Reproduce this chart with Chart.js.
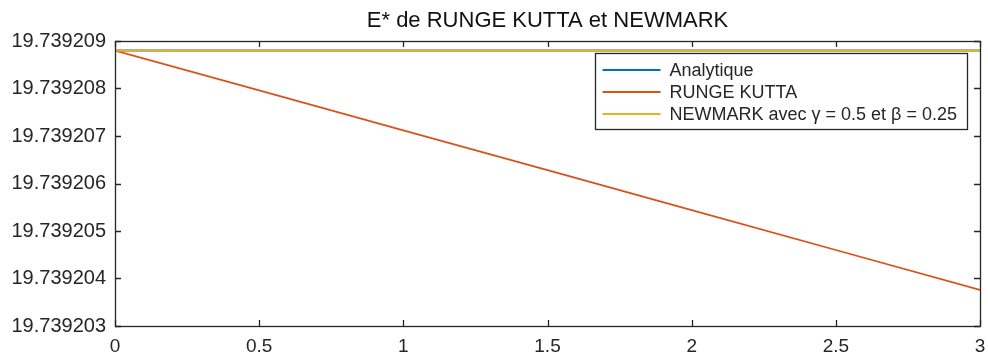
<!DOCTYPE html>
<html><head><meta charset="utf-8">
<script src="https://cdn.jsdelivr.net/npm/chart.js@4/dist/chart.umd.min.js"></script>
<style>html,body{margin:0;padding:0;background:#fff}#wrap{width:988px;height:356px}</style>
</head><body><div id="wrap"><canvas id="c" width="988" height="356"></canvas></div>
<script>
const titleText = 'E* de RUNGE KUTTA et NEWMARK';
const xValues = [0, 0.5, 1, 1.5, 2, 2.5, 3];
const analytique = [19.7392088, 19.7392088, 19.7392088, 19.7392088, 19.7392088, 19.7392088, 19.7392088];
const rungeKutta = [19.7392088, 19.73920796, 19.73920712, 19.73920628, 19.73920544, 19.7392046, 19.73920376];
const newmark = [19.7392088, 19.7392088, 19.7392088, 19.7392088, 19.7392088, 19.7392088, 19.7392088];
const xTicks = [0, 0.5, 1, 1.5, 2, 2.5, 3];
const yTicks = [19.739203, 19.739204, 19.739205, 19.739206, 19.739207, 19.739208, 19.739209];
const seriesLabels = ['Analytique', 'RUNGE KUTTA', 'NEWMARK avec \u03b3 = 0.5 et \u03b2 = 0.25'];
const seriesColors = ['#0072BD', '#D95319', '#EDB120'];

const FONT = '"Liberation Sans", Arial, Helvetica, sans-serif';
const AX = '#262626';

const boxPlugin = {
  id: 'matlabBox',
  afterDatasetsDraw(chart) {
    const {ctx, chartArea: a, scales} = chart;
    ctx.save();
    ctx.strokeStyle = AX;
    ctx.lineWidth = 1.3;
    ctx.beginPath();
    const tl = 6;
    scales.x.ticks.forEach(t => {
      const px = Math.round(scales.x.getPixelForValue(t.value)) + 0.5;
      ctx.moveTo(px, a.bottom); ctx.lineTo(px, a.bottom - tl);
      ctx.moveTo(px, a.top); ctx.lineTo(px, a.top + tl);
    });
    scales.y.ticks.forEach(t => {
      const py = Math.round(scales.y.getPixelForValue(t.value)) + 0.5;
      ctx.moveTo(a.left, py); ctx.lineTo(a.left + tl, py);
      ctx.moveTo(a.right, py); ctx.lineTo(a.right - tl, py);
    });
    ctx.stroke();
    ctx.strokeRect(Math.round(a.left) + 0.5, Math.round(a.top) + 0.5, Math.round(a.right - a.left), Math.round(a.bottom - a.top));
    // legend
    ctx.font = '18px ' + FONT;
    let maxW = 0;
    chart.data.datasets.forEach(d => { maxW = Math.max(maxW, ctx.measureText(d.label).width); });
    const lineLen = 58, gap = 9, padL = 8, padR = 10;
    const w = padL + lineLen + gap + maxW + padR;
    const right = a.right - 13, top = a.top + 12;
    const left = right - w;
    const rowH = 22, firstRow = 17;
    const h = firstRow + rowH * (chart.data.datasets.length - 1) + 15;
    ctx.fillStyle = '#fff';
    ctx.fillRect(left, top, w, h);
    ctx.lineWidth = 1.3;
    ctx.strokeStyle = AX;
    ctx.strokeRect(Math.round(left) + 0.5, Math.round(top) + 0.5, Math.round(w), Math.round(h));
    ctx.textBaseline = 'middle';
    ctx.textAlign = 'left';
    chart.data.datasets.forEach((d, i) => {
      const y = top + firstRow + i * rowH;
      ctx.strokeStyle = d.borderColor;
      ctx.lineWidth = 2;
      ctx.beginPath();
      ctx.moveTo(left + padL, y); ctx.lineTo(left + padL + lineLen, y);
      ctx.stroke();
      ctx.fillStyle = AX;
      ctx.fillText(d.label, left + padL + lineLen + gap, y + 1);
    });
    ctx.restore();
  }
};

new Chart(document.getElementById('c'), {
  type: 'line',
  data: {
    datasets: [
      { label: seriesLabels[0], data: xValues.map((x, i) => ({x, y: analytique[i]})), borderColor: seriesColors[0], borderWidth: 1.8, order: 3 },
      { label: seriesLabels[1], data: xValues.map((x, i) => ({x, y: rungeKutta[i]})), borderColor: seriesColors[1], borderWidth: 1.8, order: 2 },
      { label: seriesLabels[2], data: xValues.map((x, i) => ({x, y: newmark[i]})), borderColor: seriesColors[2], borderWidth: 2, order: 1 }
    ]
  },
  options: {
    responsive: false,
    animation: false,
    devicePixelRatio: 1,
    elements: { point: { radius: 0 }, line: { tension: 0 } },
    layout: { padding: { left: 0, right: 8, top: 0, bottom: 0 } },
    plugins: {
      legend: { display: false },
      tooltip: { enabled: false },
      title: { display: true, fullSize: false, text: titleText, color: '#111', font: { family: FONT, size: 22, weight: 'normal' }, padding: { top: 8, bottom: 6.6 } }
    },
    scales: {
      x: {
        type: 'linear', min: 0, max: 3,
        afterBuildTicks: s => { s.ticks = xTicks.map(v => ({value: v})); },
        afterFit: s => { s.height = 30; s.paddingLeft = 0; s.paddingRight = 0; },
        grid: { display: false, drawTicks: false },
        border: { display: false },
        ticks: { color: AX, font: { family: FONT, size: 19 }, padding: 9, maxRotation: 0, autoSkip: false, callback: v => String(v) }
      },
      y: {
        type: 'linear', min: yTicks[0], max: yTicks[yTicks.length - 1],
        afterBuildTicks: s => { s.ticks = yTicks.map(v => ({value: v})); },
        afterFit: s => { s.width = 115; s.paddingTop = 0; s.paddingBottom = 0; },
        grid: { display: false, drawTicks: false },
        border: { display: false },
        ticks: { color: AX, font: { family: FONT, size: 20 }, padding: 9, autoSkip: false, callback: v => Number(v).toFixed(6) }
      }
    }
  },
  plugins: [boxPlugin]
});
</script></body></html>
